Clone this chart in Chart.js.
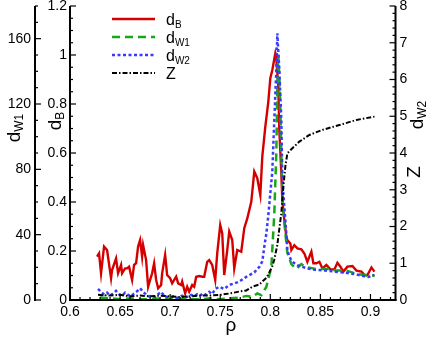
<!DOCTYPE html>
<html>
<head>
<meta charset="utf-8">
<script src="https://cdn.jsdelivr.net/npm/chart.js@4.4.1/dist/chart.umd.min.js"></script>
<style>
  html, body { margin: 0; padding: 0; background: #fff; }
  #wrap { width: 429px; height: 337px; position: relative; }
</style>
</head>
<body>
<div id="wrap"><canvas id="chart"></canvas></div>
<script>
// tick labels
const xTicks = [0.6, 0.65, 0.7, 0.75, 0.8, 0.85, 0.9];
const bTicks = [0, 0.2, 0.4, 0.6, 0.8, 1, 1.2];
const w1Ticks = [0, 40, 80, 120, 160];
const rTicks = [0, 1, 2, 3, 4, 5, 6, 7, 8];

// d_B (left inner axis)
const rhoB = [
  0.627,0.629,0.631,0.634,0.637,0.641,0.642,0.646,0.648,0.651,
  0.652,0.655,0.657,0.659,0.662,0.664,0.666,0.668,0.670,0.672,
  0.673,0.676,0.678,0.680,0.682,0.684,0.686,0.688,0.691,0.692,
  0.695,0.697,0.700,0.702,0.706,0.708,0.711,0.712,0.715,0.717,
  0.719,0.722,0.724,0.726,0.729,0.732,0.734,0.737,0.739,0.742,
  0.745,0.747,0.750,0.752,0.754,0.757,0.759,0.762,0.764,0.767,
  0.771,0.774,0.777,0.781,0.784,0.787,0.790,0.792,0.795,0.798,
  0.800,0.802,0.805,0.806,0.808,0.809,0.811,0.812,0.814,0.816,
  0.817,0.820,0.821,0.824,0.827,0.831,0.834,0.837,0.841,0.843,
  0.846,0.849,0.852,0.856,0.860,0.864,0.867,0.870,0.873,0.877,
  0.882,0.886,0.891,0.894,0.897,0.901,0.904
];
const dB = [
  0.177,0.19,0.109,0.218,0.204,0.089,0.122,0.17,0.109,0.143,
  0.109,0.129,0.129,0.136,0.082,0.143,0.15,0.218,0.245,0.177,
  0.224,0.163,0.054,0.082,0.109,0.15,0.082,0.048,0.061,0.109,
  0.184,0.102,0.089,0.068,0.095,0.068,0.061,0.075,0.027,0.054,
  0.034,0.061,0.054,0.095,0.098,0.095,0.095,0.156,0.163,0.143,
  0.082,0.19,0.306,0.272,0.102,0.204,0.279,0.245,0.129,0.204,
  0.197,0.293,0.333,0.401,0.524,0.497,0.429,0.585,0.707,0.809,
  0.905,0.939,1.007,0.987,0.87,0.694,0.517,0.408,0.327,0.258,
  0.245,0.231,0.204,0.224,0.211,0.207,0.19,0.156,0.197,0.15,
  0.15,0.156,0.129,0.143,0.125,0.125,0.152,0.136,0.116,0.136,
  0.139,0.12,0.116,0.102,0.102,0.133,0.116
];

// d_W1 (left outer axis)
const rhoW1 = [
  0.630,0.640,0.650,0.660,0.670,0.680,0.690,0.700,0.710,0.720,
  0.730,0.740,0.750,0.760,0.770,0.776,0.782,0.787,0.791,0.796,
  0.801,0.804,0.806,0.807,0.808,0.8095,0.811,0.8125,0.815,0.817,
  0.821,0.826,0.831,0.836,0.846,0.856,0.866,0.876,0.886,0.896,
  0.904
];
const dW1 = [
  1.5,1,0.5,1,0.5,0.5,1,0.5,0.5,0.5,
  0.5,1,0.5,1,1.5,2.5,2,4,3,8,
  20,53,90,130,150,130,90,57,41,29,
  22,19,22,20,19,19,18,18,16,15,
  15
];

// d_W2 (right axis)
const rhoW2 = [
  0.628,0.631,0.634,0.637,0.640,0.643,0.646,0.649,0.652,0.655,
  0.658,0.661,0.664,0.667,0.670,0.673,0.676,0.679,0.682,0.685,
  0.688,0.691,0.694,0.697,0.700,0.703,0.706,0.709,0.712,0.715,
  0.718,0.721,0.724,0.727,0.730,0.733,0.736,0.739,0.742,0.745,
  0.749,0.754,0.759,0.764,0.769,0.776,0.784,0.789,0.792,0.794,
  0.796,0.798,0.800,0.802,0.804,0.806,0.807,0.809,0.811,0.812,
  0.814,0.816,0.817,0.819,0.822,0.827,0.832,0.837,0.845,0.855,
  0.865,0.875,0.885,0.893,0.898,0.904
];
const dW2 = [
  0.3,0.22,0.15,0.2,0.12,0.18,0.25,0.15,0.12,0.2,
  0.14,0.1,0.18,0.24,0.32,0.22,0.15,0.1,0.12,0.08,
  0.16,0.22,0.12,0.08,0.06,0.1,0.05,0.08,0.12,0.06,
  0.1,0.14,0.1,0.16,0.12,0.18,0.14,0.22,0.16,0.3,
  0.36,0.3,0.41,0.45,0.5,0.63,0.75,0.9,1.05,1.45,
  1.8,2.3,2.9,3.5,4.9,6.26,7.26,6.26,4.9,3.27,
  2.54,1.81,1.36,1.18,1.04,0.95,0.9,0.86,0.82,0.8,
  0.77,0.74,0.7,0.65,0.63,0.68
];

// Z (right axis)
const rhoZ = [
  0.628,0.640,0.650,0.660,0.670,0.680,0.690,0.700,0.710,0.720,
  0.730,0.740,0.750,0.760,0.769,0.776,0.782,0.789,0.792,0.796,
  0.799,0.802,0.804,0.807,0.811,0.813,0.815,0.817,0.822,0.829,
  0.839,0.852,0.869,0.886,0.904
];
const Z = [
  0.14,0.12,0.14,0.1,0.12,0.1,0.12,0.1,0.08,0.1,
  0.12,0.12,0.14,0.18,0.23,0.26,0.36,0.42,0.5,0.6,
  0.75,0.92,1.1,1.5,2.36,3.08,3.63,3.99,4.13,4.31,
  4.49,4.63,4.76,4.9,4.99
];

const FONT = '"Liberation Sans", Arial, sans-serif';

function pts(xs, ys) {
  return xs.map((x, i) => ({ x: x, y: ys[i] }));
}

// text like "d_W1" -> d with subscript W1
function drawSubText(ctx, text, x, y, size, rot, align) {
  const parts = text.split('_');
  const main = parts[0], sub = parts[1];
  const subSize = Math.round(size * 0.62);
  ctx.save();
  ctx.translate(x, y);
  ctx.rotate(rot || 0);
  ctx.fillStyle = '#000';
  ctx.textBaseline = 'alphabetic';
  ctx.textAlign = 'left';
  ctx.font = size + 'px ' + FONT;
  const w1 = ctx.measureText(main).width;
  let w2 = 0;
  if (sub) {
    ctx.font = subSize + 'px ' + FONT;
    w2 = ctx.measureText(sub).width;
  }
  const x0 = align === 'left' ? 0 : -(w1 + w2) / 2;
  ctx.font = size + 'px ' + FONT;
  ctx.fillText(main, x0, 0);
  if (sub) {
    ctx.font = subSize + 'px ' + FONT;
    ctx.fillText(sub, x0 + w1, size * 0.18);
  }
  ctx.restore();
}

const tecplotAxes = {
  id: 'tecplotAxes',
  afterDraw(chart) {
    const ctx = chart.ctx;
    const a = chart.chartArea;
    const s = chart.scales;
    ctx.save();
    ctx.strokeStyle = '#000';
    ctx.lineWidth = 2;
    ctx.lineCap = 'butt';

    function seg(x1, y1, x2, y2) {
      ctx.beginPath();
      ctx.moveTo(x1, y1);
      ctx.lineTo(x2, y2);
      ctx.stroke();
    }

    // bottom axis
    seg(a.left - 1, a.bottom, a.right + 1, a.bottom);
    ctx.lineWidth = 1.2;
    for (let i = 60; i <= 92; i++) {
      const px = s.x.getPixelForValue(i / 100);
      const len = i % 5 === 0 ? 6 : 3;
      seg(px, a.bottom, px, a.bottom - len);
    }

    // left inner axis (d_B)
    ctx.lineWidth = 2;
    seg(a.left, a.bottom + 1, a.left, a.top);
    ctx.lineWidth = 1.2;
    for (let i = 0; i <= 24; i++) {
      const py = s.yB.getPixelForValue(i * 0.05);
      const len = i % 4 === 0 ? 6 : 3;
      seg(a.left, py, a.left + len, py);
    }

    // left outer axis (d_W1)
    const xo = s.yW1.right;
    ctx.lineWidth = 2;
    seg(xo, s.yW1.getPixelForValue(0) + 1, xo, s.yW1.getPixelForValue(180));
    ctx.lineWidth = 1.2;
    for (let i = 0; i <= 18; i++) {
      const py = s.yW1.getPixelForValue(i * 10);
      const len = i % 4 === 0 ? 6 : 3;
      seg(xo, py, xo + len, py);
    }

    // right axis (d_W2, Z)
    ctx.lineWidth = 2;
    seg(a.right, a.bottom + 1, a.right, a.top);
    ctx.lineWidth = 1.2;
    for (let i = 0; i <= 40; i++) {
      const py = s.yR.getPixelForValue(i * 0.2);
      const len = i % 5 === 0 ? 6 : 3;
      seg(a.right, py, a.right - len, py);
    }

    // axis titles
    drawSubText(ctx, 'd_W1', 20, 128, 19, -Math.PI / 2);
    drawSubText(ctx, 'd_B', 61, 121, 19, -Math.PI / 2);
    drawSubText(ctx, 'Z', 420, 172, 19, -Math.PI / 2);
    drawSubText(ctx, 'd_W2', 423, 115, 19, -Math.PI / 2);
    ctx.font = '19px ' + FONT;
    ctx.fillStyle = '#000';
    ctx.textAlign = 'center';
    ctx.textBaseline = 'middle';
    ctx.fillText('ρ', 231, 326);

    // legend
    chart.data.datasets.forEach((ds, i) => {
      const y = 19 + i * 18;
      ctx.strokeStyle = ds.borderColor;
      ctx.lineWidth = ds.borderWidth;
      ctx.setLineDash(ds.borderDash || []);
      seg(112, y, 155, y);
      ctx.setLineDash([]);
      drawSubText(ctx, ds.label, 166, y + 6, 16, 0, 'left');
    });
    ctx.restore();
  }
};

function tickSetter(list) {
  return function (scale) {
    scale.ticks = list.map(v => ({ value: v }));
  };
}

const tickFont = { family: FONT, size: 14 };

new Chart(document.getElementById('chart'), {
  type: 'line',
  data: {
    datasets: [
      { label: 'd_B', data: pts(rhoB, dB), yAxisID: 'yB', borderColor: '#d40000',
        borderWidth: 2.4, order: 4 },
      { label: 'd_W1', data: pts(rhoW1, dW1), yAxisID: 'yW1', borderColor: '#19a619',
        borderWidth: 2.5, borderDash: [8, 5], order: 3 },
      { label: 'd_W2', data: pts(rhoW2, dW2), yAxisID: 'yR', borderColor: '#3a3aff',
        borderWidth: 2.5, borderDash: [3, 2.5], order: 2 },
      { label: 'Z', data: pts(rhoZ, Z), yAxisID: 'yR', borderColor: '#000000',
        borderWidth: 2, borderDash: [5, 2, 1.5, 2], order: 1 }
    ]
  },
  options: {
    responsive: true,
    maintainAspectRatio: false,
    animation: false,
    layout: { padding: { top: 6, left: 0, right: 0, bottom: 0 } },
    elements: { point: { radius: 0 }, line: { tension: 0, fill: false } },
    plugins: { legend: { display: false }, tooltip: { enabled: false } },
    scales: {
      x: {
        type: 'linear', position: 'bottom', min: 0.6, max: 0.925,
        afterBuildTicks: tickSetter(xTicks),
        afterFit: s => { s.height = 37; s.paddingLeft = 0; s.paddingRight = 0; },
        grid: { display: false, drawTicks: false },
        border: { display: false },
        ticks: { font: tickFont, color: '#000', padding: 4, maxRotation: 0, autoSkip: false,
                 callback: v => String(v) }
      },
      yB: {
        type: 'linear', position: 'left', weight: 0, min: 0, max: 1.2,
        afterBuildTicks: tickSetter(bTicks),
        afterFit: s => { s.width = 35; s.paddingTop = 0; s.paddingBottom = 0; },
        grid: { display: false, drawTicks: false },
        border: { display: false },
        ticks: { font: tickFont, color: '#000', padding: 3, autoSkip: false, callback: v => String(v) }
      },
      yW1: {
        type: 'linear', position: 'left', weight: 1, min: 0, max: 180,
        afterBuildTicks: tickSetter(w1Ticks),
        afterFit: s => { s.width = 35; s.paddingTop = 0; s.paddingBottom = 0; },
        grid: { display: false, drawTicks: false },
        border: { display: false },
        ticks: { font: tickFont, color: '#000', padding: 4, autoSkip: false, callback: v => String(v) }
      },
      yR: {
        type: 'linear', position: 'right', min: 0, max: 8,
        afterBuildTicks: tickSetter(rTicks),
        afterFit: s => { s.width = 33.5; s.paddingTop = 0; s.paddingBottom = 0; },
        grid: { display: false, drawTicks: false },
        border: { display: false },
        ticks: { font: tickFont, color: '#000', padding: 4, autoSkip: false, callback: v => String(v) }
      }
    }
  },
  plugins: [tecplotAxes]
});
</script>
</body>
</html>
